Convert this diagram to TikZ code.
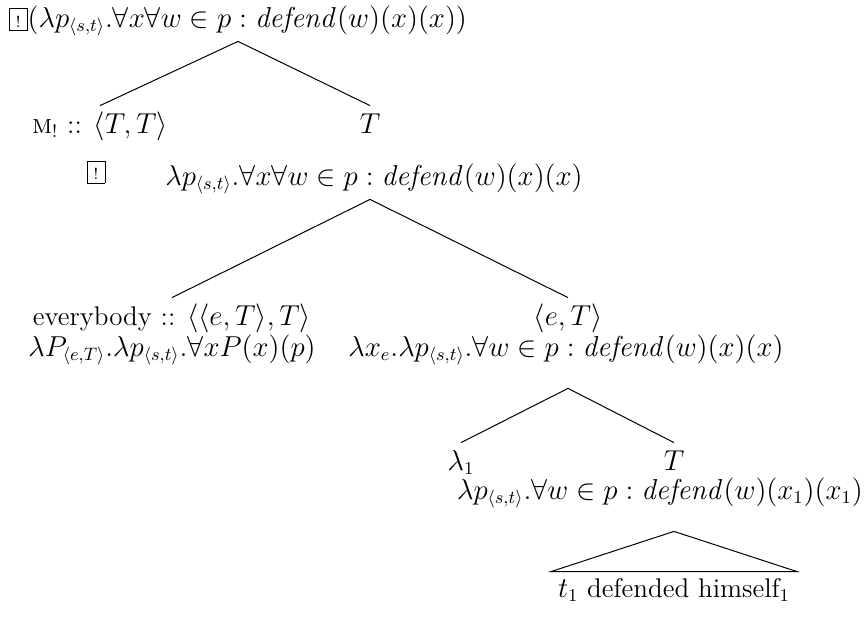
\documentclass[tikz,border=0pt]{standalone}
\usepackage{amsmath}
\usepackage{amssymb}
\usepackage{tikz}

\newcommand{\bangbox}{{\setlength{\fboxsep}{1pt}\fbox{\makebox[6.5pt]{\rule[-0.5pt]{0pt}{8.5pt}\footnotesize !}}}}
\newcommand{\defend}{\mathit{defend}}
\newcommand{\st}{_{\langle s,t\rangle}}

\begin{document}
\begin{tikzpicture}[
  x=0.5pt,y=-0.5pt,
  every node/.style={font=\fontsize{13.5}{16}\selectfont},
  cat/.style={anchor=base, text height=8pt, inner ysep=5.5pt},
  sem/.style={anchor=base, text depth=3pt, inner ysep=4pt},
  semlow/.style={sem, text depth=12pt},
  leaf/.style={anchor=base, text height=9pt, inner ysep=3.5pt, minimum width=121.5pt},
  branch/.style={draw=black, line width=0.5pt}
]
\useasboundingbox (0,0) rectangle (864,617);
\node[sem] (root) at (238,27) {\bangbox$(\lambda p\st.\forall x\forall w\in p:\defend(w)(x)(x))$};
\node[cat] (mbang) at (100,133) {\textsc{m}$_{!}$ :: $\langle T,T\rangle$};
\node (mbox) at (96,172) {\bangbox};
\node[cat] (tone) at (370,133) {$T$};
\node[sem] (tonesem) at (374,185) {$\lambda p\st.\forall x\forall w\in p:\defend(w)(x)(x)$};
\node[cat] (every) at (172,325) {everybody :: $\langle\langle e,T\rangle,T\rangle$};
\node[sem] (everysem) at (172,356) {$\lambda P_{\langle e,T\rangle}.\lambda p\st.\forall xP(x)(p)$};
\node[cat] (et) at (568,325) {$\langle e,T\rangle$};
\node[semlow] (etsem) at (566,356) {$\lambda x_e.\lambda p\st.\forall w\in p:\defend(w)(x)(x)$};
\node[cat] (lam) at (461,470) {$\lambda_1$};
\node[cat] (ttwo) at (674,470) {$T$};
\node[semlow] (ttwosem) at (660,499) {$\lambda p\st.\forall w\in p:\defend(w)(x_1)(x_1)$};
\node[leaf] (tp) at (674,597) {$t_1$ defended himself$_1$};

\draw[branch] (mbang.north) -- (root.south) -- (tone.north);
\draw[branch] (every.north) -- (tonesem.south -| tone) -- (et.north);
\draw[branch] (lam.north) -- (etsem.south -| et) -- (ttwo.north);
\draw[branch] (tp.north west) -- (ttwosem.south -| ttwo) -- (tp.north east) -- cycle;
\end{tikzpicture}
\end{document}
